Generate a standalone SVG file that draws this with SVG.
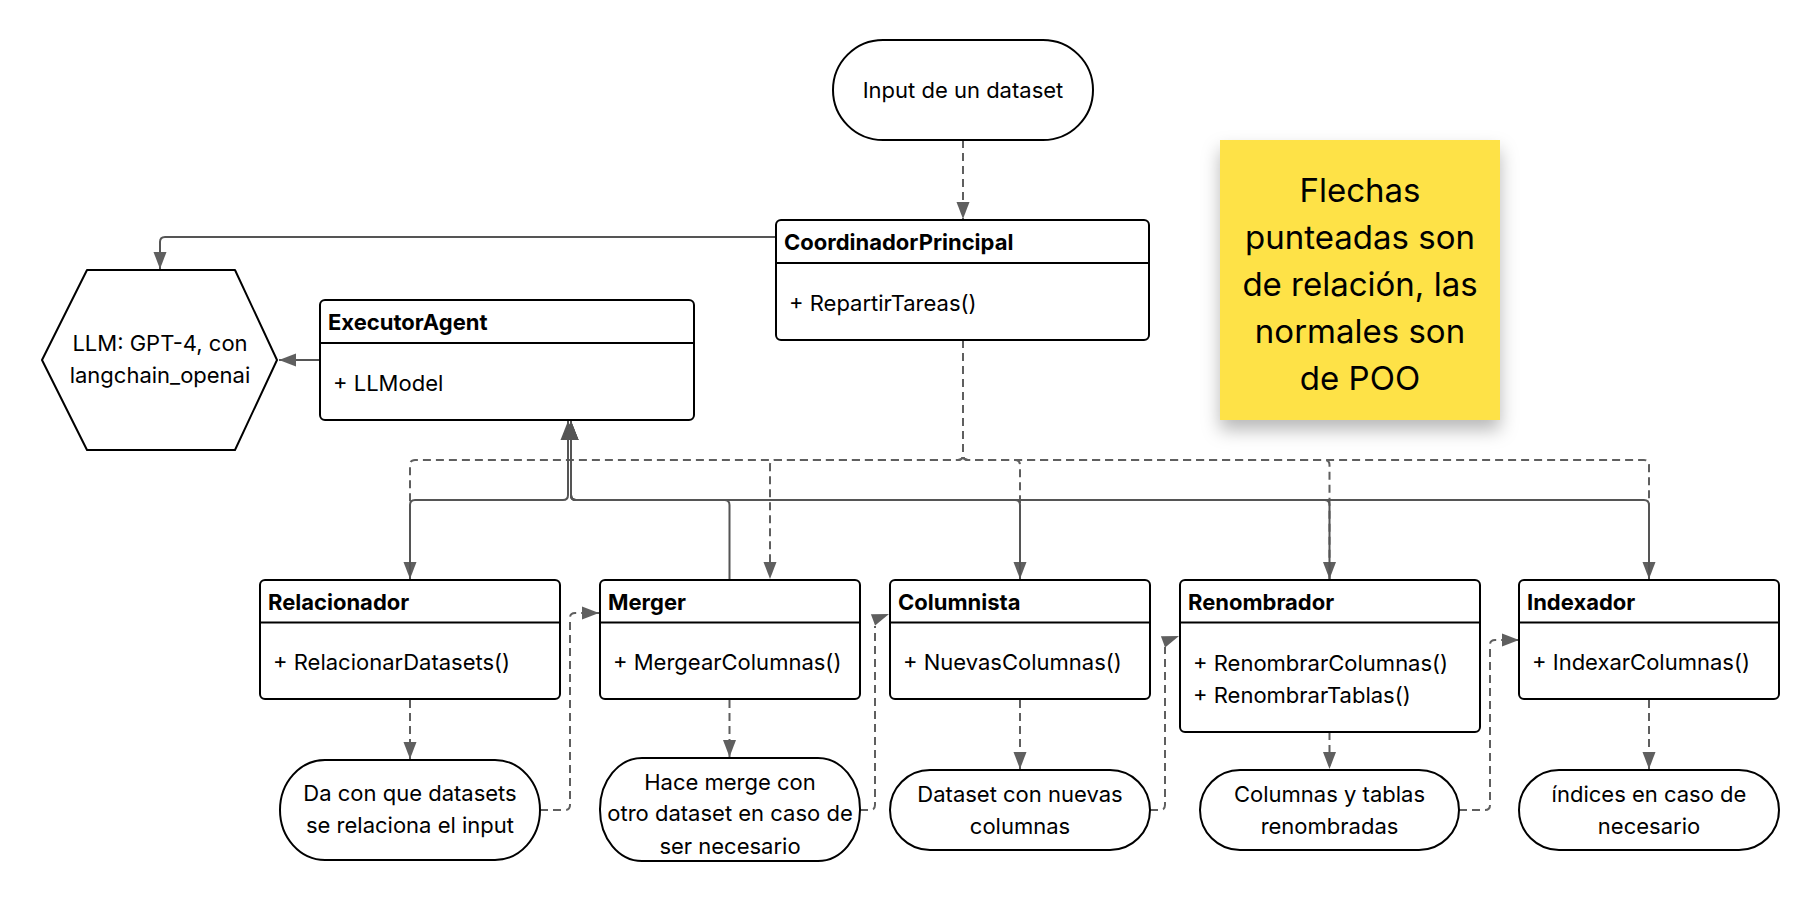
<svg xmlns="http://www.w3.org/2000/svg" width="1820" height="901" viewBox="0 0 1820 901">
<style>
.box{fill:#fff;stroke:#000;stroke-width:2}
.div{stroke:#000;stroke-width:2}
.t{font-family:Inter,"Liberation Sans",sans-serif;font-size:22px;fill:#000}
.b{font-weight:bold}
.c{text-anchor:middle}
.sol{fill:none;stroke:#555;stroke-width:2}
.dsh{fill:none;stroke:#5f5f5f;stroke-width:2;stroke-dasharray:8 5}
.ah{fill:#5f5f5f}
.note{font-family:Inter,"Liberation Sans",sans-serif;font-size:33px;fill:#000;text-anchor:middle}
</style>
<defs>
<marker id="a" markerUnits="userSpaceOnUse" markerWidth="18" markerHeight="14" refX="17" refY="7" orient="auto"><path d="M0,0.5 L17,7 L0,13.5 z" fill="#5f5f5f"/></marker>
<marker id="big" markerUnits="userSpaceOnUse" markerWidth="20" markerHeight="16" refX="19" refY="8" orient="auto"><path d="M0,0.5 L19,8 L0,15.5 z" fill="#555"/></marker>
<filter id="sh" x="-20%" y="-20%" width="140%" height="150%"><feDropShadow dx="0" dy="10" stdDeviation="9" flood-color="#000" flood-opacity="0.28"/></filter>
</defs>
<rect width="1820" height="901" fill="#fff"/>

<g id="connectors">
<path class="dsh" d="M963,140 V219" marker-end="url(#a)"/>
<path class="sol" d="M776,237 H165 Q160,237 160,242 V269" marker-end="url(#a)"/>
<path class="sol" d="M320,360 H279" marker-end="url(#a)"/>
<path class="dsh" d="M963,340 V455 Q963,460 958,460 H415 Q410,460 410,465 V579" marker-end="url(#a)"/>
<path class="dsh" d="M963,340 V455 Q963,460 958,460 H775 Q770,460 770,465 V579" marker-end="url(#a)"/>
<path class="dsh" d="M963,340 V455 Q963,460 968,460 H1015 Q1020,460 1020,465 V579" marker-end="url(#a)"/>
<path class="dsh" d="M963,340 V455 Q963,460 968,460 H1324.5 Q1329.5,460 1329.5,465 V579" marker-end="url(#a)"/>
<path class="dsh" d="M963,340 V455 Q963,460 968,460 H1644 Q1649,460 1649,465 V579" marker-end="url(#a)"/>
<path class="sol" d="M410,580 V505 Q410,500 415,500 H563 Q568,500 568,495 V421" marker-end="url(#big)"/>
<path class="sol" d="M729.5,580 V505 Q729.5,500 724.5,500 H576 Q571,500 571,495 V421" marker-end="url(#big)"/>
<path class="sol" d="M1020,580 V505 Q1020,500 1015,500 H576 Q571,500 571,495 V421" marker-end="url(#big)"/>
<path class="sol" d="M1329.5,580 V505 Q1329.5,500 1324.5,500 H576 Q571,500 571,495 V421" marker-end="url(#big)"/>
<path class="sol" d="M1649,580 V505 Q1649,500 1644,500 H576 Q571,500 571,495 V421" marker-end="url(#big)"/>
<path class="dsh" d="M410,700 V759" marker-end="url(#a)"/>
<path class="dsh" d="M729.5,700 V757" marker-end="url(#a)"/>
<path class="dsh" d="M1020,700 V769" marker-end="url(#a)"/>
<path class="dsh" d="M1329.5,732 V769" marker-end="url(#a)"/>
<path class="dsh" d="M1649,700 V769" marker-end="url(#a)"/>
<path class="dsh" d="M540,810 H565 Q570,810 570,805 V618 Q570,613 575,613 H599" marker-end="url(#a)"/>
<path class="dsh" d="M860,810 H870 Q875,810 875,805 V626"/>
<polygon class="ah" points="889,614 870.9,614.2 875.1,625.4"/>
<path class="dsh" d="M1150,810 H1160 Q1165,810 1165,805 V647"/>
<polygon class="ah" points="1179,636 1160.9,636.2 1165.1,647.4"/>
<path class="dsh" d="M1459,810 H1485 Q1490,810 1490,805 V645 Q1490,640 1495,640 H1519" marker-end="url(#a)"/>
</g>

<g id="input">
<rect class="box" x="833" y="40" width="260" height="100" rx="50" ry="50"/>
<text class="t c" x="963" y="98">Input de un dataset</text>
</g>

<g id="coordinador">
<rect class="box" x="776" y="220" width="373" height="120" rx="5"/>
<line class="div" x1="776" y1="263" x2="1149" y2="263"/>
<text class="t b" x="784" y="250">CoordinadorPrincipal</text>
<text class="t" x="789" y="311">+ RepartirTareas()</text>
</g>

<g id="llm">
<polygon class="box" stroke-linejoin="round" points="42,360 87,270 235,270 277,360 235,450 87,450"/>
<text class="t c" x="160" y="351">LLM: GPT-4, con</text>
<text class="t c" x="160" y="383">langchain_openai</text>
</g>

<g id="executor">
<rect class="box" x="320" y="300" width="374" height="120" rx="5"/>
<line class="div" x1="320" y1="343" x2="694" y2="343"/>
<text class="t b" x="328" y="330">ExecutorAgent</text>
<text class="t" x="333" y="391">+ LLModel</text>
</g>

<g id="note">
<rect x="1220" y="140" width="280" height="280" fill="#FEE246" filter="url(#sh)"/>
<text class="note" x="1360" y="202">Flechas</text>
<text class="note" x="1360" y="249">punteadas son</text>
<text class="note" x="1360" y="296">de relación, las</text>
<text class="note" x="1360" y="343">normales son</text>
<text class="note" x="1360" y="390">de POO</text>
</g>

<g id="relacionador">
<rect class="box" x="260" y="580" width="300" height="119" rx="5"/>
<line class="div" x1="260" y1="622.5" x2="560" y2="622.5"/>
<text class="t b" x="268" y="610">Relacionador</text>
<text class="t" x="273" y="670">+ RelacionarDatasets()</text>
</g>

<g id="merger">
<rect class="box" x="600" y="580" width="260" height="119" rx="5"/>
<line class="div" x1="600" y1="622.5" x2="860" y2="622.5"/>
<text class="t b" x="608" y="610">Merger</text>
<text class="t" x="613" y="670">+ MergearColumnas()</text>
</g>

<g id="columnista">
<rect class="box" x="890" y="580" width="260" height="119" rx="5"/>
<line class="div" x1="890" y1="622.5" x2="1150" y2="622.5"/>
<text class="t b" x="898" y="610">Columnista</text>
<text class="t" x="903" y="670">+ NuevasColumnas()</text>
</g>

<g id="renombrador">
<rect class="box" x="1180" y="580" width="300" height="152" rx="5"/>
<line class="div" x1="1180" y1="622.5" x2="1480" y2="622.5"/>
<text class="t b" x="1188" y="610">Renombrador</text>
<text class="t" x="1193" y="671">+ RenombrarColumnas()</text>
<text class="t" x="1193" y="703">+ RenombrarTablas()</text>
</g>

<g id="indexador">
<rect class="box" x="1519" y="580" width="260" height="119" rx="5"/>
<line class="div" x1="1519" y1="622.5" x2="1779" y2="622.5"/>
<text class="t b" x="1527" y="610">Indexador</text>
<text class="t" x="1532" y="670">+ IndexarColumnas()</text>
</g>

<g id="res-relacionador">
<rect class="box" x="280" y="760" width="260" height="100" rx="45" ry="50"/>
<text class="t c" x="410" y="801">Da con que datasets</text>
<text class="t c" x="410" y="833">se relaciona el input</text>
</g>

<g id="res-merger">
<rect class="box" x="600" y="758" width="260" height="103" rx="42" ry="51"/>
<text class="t c" x="730" y="790">Hace merge con</text>
<text class="t c" x="730" y="821">otro dataset en caso de</text>
<text class="t c" x="730" y="854">ser necesario</text>
</g>

<g id="res-columnista">
<rect class="box" x="890" y="770" width="260" height="80" rx="40" ry="40"/>
<text class="t c" x="1020" y="802">Dataset con nuevas</text>
<text class="t c" x="1020" y="834">columnas</text>
</g>

<g id="res-renombrador">
<rect class="box" x="1200" y="770" width="259" height="80" rx="40" ry="40"/>
<text class="t c" x="1329.5" y="802">Columnas y tablas</text>
<text class="t c" x="1329.5" y="834">renombradas</text>
</g>

<g id="res-indexador">
<rect class="box" x="1519" y="770" width="260" height="80" rx="40" ry="40"/>
<text class="t c" x="1649" y="802">índices en caso de</text>
<text class="t c" x="1649" y="834">necesario</text>
</g>
</svg>
